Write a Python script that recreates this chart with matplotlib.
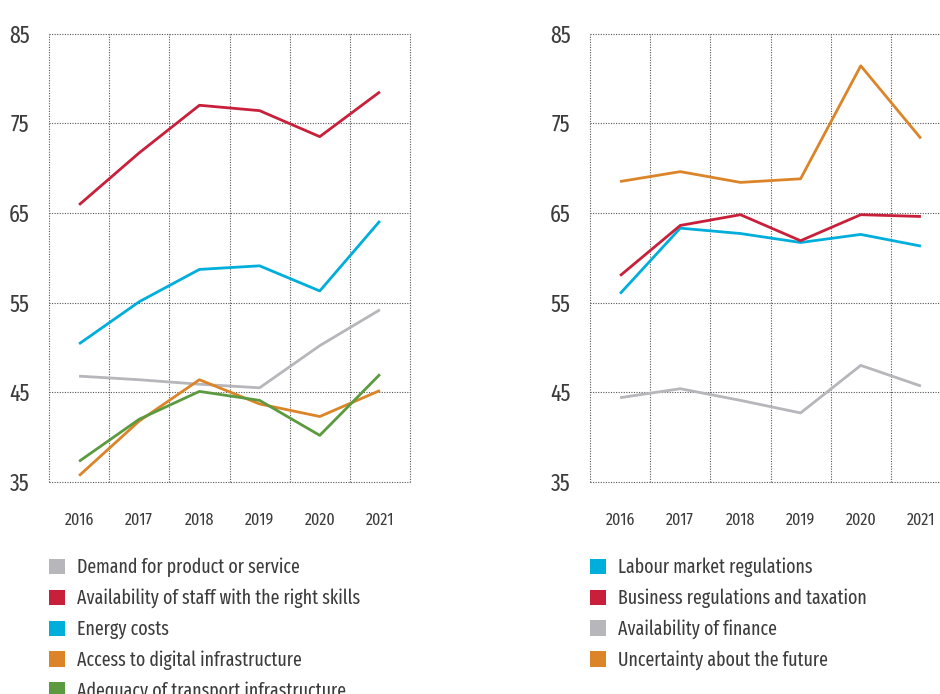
import numpy as np
import matplotlib
matplotlib.use("Agg")
import matplotlib.pyplot as plt
from matplotlib.patches import Patch

plt.rcParams['font.family'] = ['Fira Sans Extra Condensed', 'DejaVu Sans']
plt.rcParams['font.weight'] = 'normal'

years = ['2016', '2017', '2018', '2019', '2020', '2021']

# left panel
demand = [46.8, 46.4, 45.9, 45.5, 50.2, 54.2]
staff = [65.9, 71.7, 77.0, 76.4, 73.5, 78.5]
energy = [50.4, 55.1, 58.7, 59.1, 56.3, 64.1]
digital = [35.7, 41.8, 46.4, 43.7, 42.3, 45.2]
transport = [37.3, 42.0, 45.1, 44.1, 40.2, 47.0]

# right panel
labour = [56.0, 63.3, 62.7, 61.7, 62.6, 61.3]
business = [58.0, 63.6, 64.8, 61.9, 64.8, 64.6]
finance = [44.4, 45.4, 44.1, 42.7, 48.0, 45.7]
uncertainty = [68.5, 69.6, 68.4, 68.8, 81.4, 73.3]

GREY = '#b6b6bb'
RED = '#c8203a'
BLUE = '#00aedb'
ORANGE = '#dc8428'
GREEN = '#5c9a40'
TXT = '#3c3c3c'

left_series = [('Demand for product or service', demand, GREY),
               ('Availability of staff with the right skills', staff, RED),
               ('Energy costs', energy, BLUE),
               ('Access to digital infrastructure', digital, ORANGE),
               ('Adequacy of transport infrastructure', transport, GREEN)]
right_series = [('Labour market regulations', labour, BLUE),
                ('Business regulations and taxation', business, RED),
                ('Availability of finance', finance, GREY),
                ('Uncertainty about the future', uncertainty, ORANGE)]

W, H = 940, 694
fig = plt.figure(figsize=(9.4, 6.94), dpi=100)

def make_axes(x0, x1, series, leg_x):
    ax = fig.add_axes([x0 / W, (H - 482) / H, (x1 - x0) / W, (482 - 33.5) / H])
    x = np.arange(len(years))
    for name, vals, col in series:
        ax.plot(x, vals, color=col, lw=2.0, solid_capstyle='butt', zorder=3)
    ax.set_xlim(-0.5, 5.5)
    ax.set_ylim(35, 85)
    ax.set_yticks(np.arange(35, 86, 10))
    ax.set_xticks(x)
    ax.set_xticklabels(years)
    # dotted grid, cells between the years
    for v in np.arange(-0.5, 5.6, 1):
        ax.axvline(v, color='#555555', lw=0.8, ls=(0, (1, 1.3)), zorder=1, clip_on=False)
    for v in np.arange(35, 86, 10):
        ax.axhline(v, color='#555555', lw=0.8, ls=(0, (1, 1.3)), zorder=1, clip_on=False)
    for s in ax.spines.values():
        s.set_visible(False)
    ax.tick_params(axis='y', length=0, pad=14, labelsize=17, labelcolor=TXT)
    ax.tick_params(axis='x', length=0, pad=22, labelsize=12.5, labelcolor=TXT)
    handles = [Patch(facecolor=c, edgecolor='none', label=n) for n, v, c in series]
    fig.legend(handles=handles, loc='upper left',
               bbox_to_anchor=((leg_x - 8) / W, (H - 550) / H),
               frameon=False, fontsize=14, labelcolor=TXT,
               handlelength=0.85, handleheight=0.85, handletextpad=0.62,
               labelspacing=0.57, borderaxespad=0)
    return ax

make_axes(49, 410, left_series, 49)
make_axes(590, 951, right_series, 590)

fig.savefig('out.png', dpi=100)
